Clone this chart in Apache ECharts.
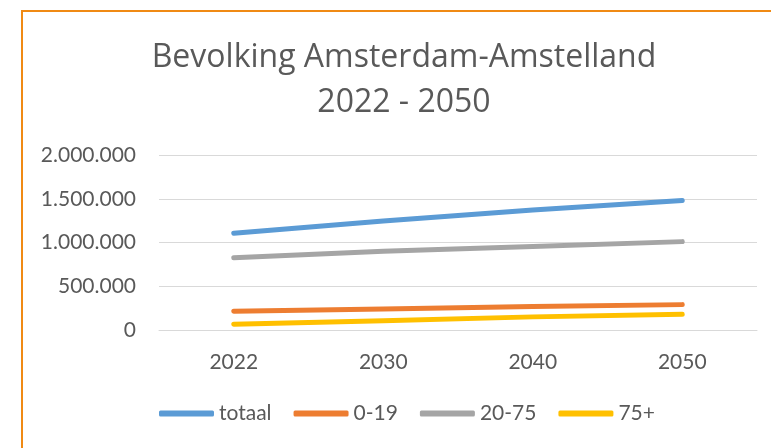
<!DOCTYPE html>
<html>
<head>
<meta charset="utf-8">
<script src="https://cdn.jsdelivr.net/npm/echarts@6/dist/echarts.min.js"></script>
<style>
html,body{margin:0;padding:0;background:#fff;}
#c{width:771px;height:448px;}
</style>
</head>
<body>
<div id="c"></div>
<script>
const categories = ['2022', '2030', '2040', '2050'];
const totaal = [1106000, 1245000, 1372000, 1480000];
const age0to19 = [215000, 240000, 268000, 290000];
const age20to75 = [825000, 900000, 955000, 1010000];
const age75plus = [67000, 105000, 150000, 180000];
const seriesNames = ['totaal', '0-19', '20-75', '75+'];
const colors = ['#5B9BD5', '#ED7D31', '#A5A5A5', '#FFC000'];

const FONT = 'Lato';
const TXT = '#595959';

function fmt(v) {
  return String(v).replace(/\B(?=(\d{3})+(?!\d))/g, '.');
}

const chart = echarts.init(document.getElementById('c'), null, {renderer: 'canvas'});
const dataSets = [totaal, age0to19, age20to75, age75plus];
chart.setOption({
  animation: false,
  backgroundColor: '#ffffff',
  color: colors,
  graphic: [{
    type: 'rect',
    shape: {x: 22, y: 11, width: 820, height: 520},
    style: {fill: 'none', stroke: '#F08A14', lineWidth: 2},
    silent: true
  }],
  title: {
    text: 'Bevolking Amsterdam-Amstelland\n2022 - 2050',
    left: 399,
    top: 30,
    textAlign: 'center',
    textStyle: {fontFamily: 'Open Sans', fontSize: 32, fontWeight: 'normal', color: TXT, lineHeight: 45}
  },
  legend: {
    data: seriesNames,
    bottom: 19,
    left: 154,
    itemWidth: 55,
    itemHeight: 6,
    itemGap: 22,
    icon: 'roundRect',
    textStyle: {fontFamily: FONT, fontSize: 21, color: TXT}
  },
  grid: {left: 159, right: 14, top: 155, bottom: 118},
  xAxis: {
    type: 'category',
    data: categories,
    boundaryGap: true,
    axisLine: {lineStyle: {color: '#D9D9D9', width: 1}},
    axisTick: {show: false},
    axisLabel: {fontFamily: FONT, fontSize: 21, color: TXT, margin: 22}
  },
  yAxis: {
    type: 'value',
    min: 0,
    max: 2000000,
    interval: 500000,
    axisLine: {show: false},
    axisTick: {show: false},
    splitLine: {lineStyle: {color: '#D9D9D9', width: 1}},
    axisLabel: {fontFamily: FONT, fontSize: 21, color: TXT, margin: 23, formatter: fmt}
  },
  series: seriesNames.map((n, i) => ({
    name: n,
    type: 'line',
    data: dataSets[i],
    symbol: 'none',
    lineStyle: {width: 5, color: colors[i], cap: 'round', join: 'round'},
    itemStyle: {color: colors[i]}
  }))
});
</script>
</body>
</html>
